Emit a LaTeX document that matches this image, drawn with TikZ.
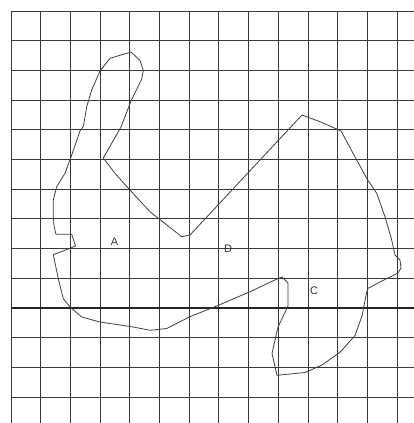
\documentclass[tikz,border=0pt]{standalone}
\usepackage{fontspec}
\setmainfont{Liberation Sans}
\begin{document}
\begin{tikzpicture}[x=1pt,y=-1pt,
  gridline/.style={draw=black!78,line width=0.95pt},
  boldgrid/.style={draw=black!85,line width=1.15pt},
  outline/.style={draw=black!75,line width=0.8pt,line join=round},
  lbl/.style={font=\fontsize{11}{13}\selectfont,text=black!80,inner sep=0pt}]
\useasboundingbox[fill=white] (0,0) rectangle (414,423);
% grid
\foreach \k in {0,...,13}{
  \pgfmathsetmacro{\p}{11+29.7*\k}
  \draw[gridline] (\p,11) -- (\p,423);
  \draw[gridline] (11,\p) -- (414,\p);
}
\draw[boldgrid] (11,308) -- (414,308);
% outline of the region
\draw[outline] (131,52) -- (140,60.5) -- (143.3,70.5) -- (141.7,79) -- (131,101)
 -- (121,127) -- (111.7,143.3) -- (103.3,158) -- (115,173.3) -- (129,189)
 -- (150,211.7) -- (181.7,236.7) -- (190,235) -- (302,115) -- (320,121.7)
 -- (341,131) -- (354,155) -- (366.7,178.3) -- (376.7,193.3) -- (385,216.7)
 -- (391.7,240) -- (395,255) -- (400,260) -- (401,268) -- (398,273)
 -- (390,277) -- (380,282) -- (368,288.3) -- (366.5,293) -- (362,316)
 -- (355,335.5) -- (340.3,352) -- (322,365) -- (305,372.5) -- (277,375.3)
 -- (272,353.5) -- (278,327) -- (282,318.7) -- (288,306) -- (288,283)
 -- (282,277) -- (278,278.5) -- (250,291.7) -- (216.7,306) -- (190,316.7)
 -- (166.7,328.5) -- (150,330.3) -- (133.3,327) -- (100,322) -- (81.7,317)
 -- (70,307) -- (63.3,298.7) -- (58.3,278.7) -- (53.3,254.7) -- (70,248.3)
 -- (75.5,246) -- (71.7,234.3) -- (56,234.3) -- (54,226) -- (53.3,216.7)
 -- (53.3,200) -- (56.7,186.7) -- (65,173.3) -- (71.7,155) -- (80,131)
 -- (83.5,126) -- (86.7,106.7) -- (91.7,90) -- (100,71) -- (103.3,66.7)
 -- (110,58.3) -- cycle;
% labels
\node[lbl] (A) at (114.5,242) {A};
\node[lbl] (D) at (228,248.5) {D};
\node[lbl] (C) at (314,291) {C};
\end{tikzpicture}
\end{document}
